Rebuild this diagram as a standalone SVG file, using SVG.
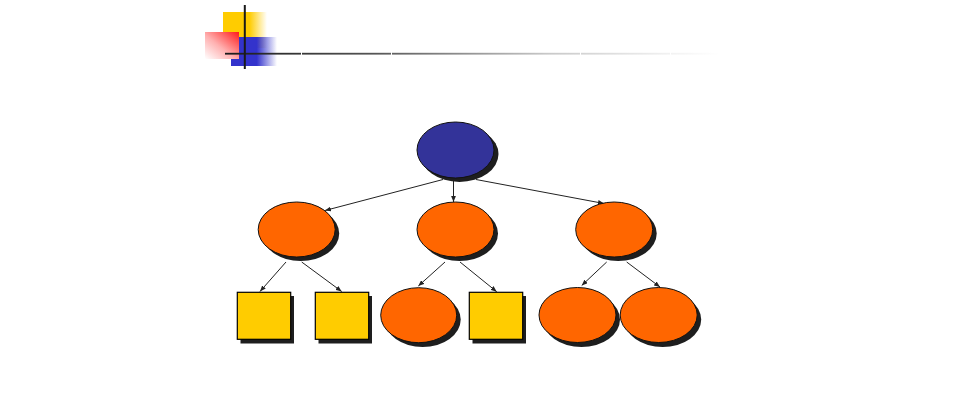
<svg xmlns="http://www.w3.org/2000/svg" width="959" height="419" viewBox="0 0 959 419">
<defs>
<linearGradient id="gY" x1="0" y1="0" x2="1" y2="0"><stop offset="0" stop-color="#FFCC00"/><stop offset="0.6" stop-color="#FFCC00"/><stop offset="1" stop-color="#FFCC00" stop-opacity="0"/></linearGradient>
<linearGradient id="gB" x1="0" y1="0" x2="1" y2="0"><stop offset="0" stop-color="#3333CC"/><stop offset="0.56" stop-color="#3333CC"/><stop offset="1" stop-color="#3333CC" stop-opacity="0"/></linearGradient>
<linearGradient id="gR" x1="1" y1="0" x2="0" y2="1"><stop offset="0" stop-color="#FF1A1A"/><stop offset="0.55" stop-color="#FFB0B0"/><stop offset="1" stop-color="#FFFFFF"/></linearGradient>
<linearGradient id="gL" x1="225" y1="0" x2="720" y2="0" gradientUnits="userSpaceOnUse"><stop offset="0" stop-color="#1a1a1a"/><stop offset="0.3" stop-color="#555"/><stop offset="0.65" stop-color="#c8c8c8"/><stop offset="0.9" stop-color="#f2f2f2"/><stop offset="1" stop-color="#fff"/></linearGradient>
<marker id="ah" viewBox="0 0 10 8" refX="10" refY="4" markerWidth="6" markerHeight="5" markerUnits="userSpaceOnUse" orient="auto"><path d="M0,0 L10,4 L0,8 z" fill="#222"/></marker>
</defs>
<style>
.sh{fill:#1e1e1e}
.or{fill:#FF6600;stroke:#111;stroke-width:1}
.bl{fill:#333399;stroke:#111;stroke-width:1}
.ye{fill:#FFCC00;stroke:#000;stroke-width:1.2}
.cn{stroke:#222;stroke-width:1;fill:none;marker-end:url(#ah)}
</style>
<g id="header">
<rect x="223" y="12" width="44" height="36" fill="url(#gY)"/>
<rect x="231" y="37" width="46" height="29" fill="url(#gB)"/>
<rect x="205" y="32" width="34" height="27" fill="url(#gR)"/>
<rect x="225" y="52.8" width="495" height="1.8" fill="url(#gL)"/>
<g stroke="#fff" stroke-width="1"><line x1="301.5" y1="52" x2="301.5" y2="56"/><line x1="391.5" y1="52" x2="391.5" y2="56"/><line x1="580.5" y1="52" x2="580.5" y2="56"/><line x1="670.5" y1="52" x2="670.5" y2="56"/></g>
<rect x="243.8" y="5" width="2" height="64" fill="#1a1a1a"/>
</g>
<g id="connectors">
<line class="cn" x1="443" y1="179.5" x2="325" y2="210.5"/>
<line class="cn" x1="453.5" y1="180" x2="453.5" y2="202"/>
<line class="cn" x1="476" y1="179.5" x2="604" y2="203.5"/>
<line class="cn" x1="286" y1="262" x2="260" y2="291.5"/>
<line class="cn" x1="301.7" y1="262" x2="341.7" y2="291.5"/>
<line class="cn" x1="445" y1="262" x2="418.3" y2="286"/>
<line class="cn" x1="460" y1="262" x2="496.7" y2="291.7"/>
<line class="cn" x1="606.7" y1="262" x2="581.7" y2="285.5"/>
<line class="cn" x1="626.7" y1="262" x2="660" y2="287"/>
</g>
<g id="root"><ellipse class="sh" cx="459.5" cy="154" rx="39" ry="28"/><ellipse class="bl" cx="455.5" cy="150" rx="38.5" ry="28"/></g>
<g id="l2a"><ellipse class="sh" cx="300.7" cy="233.5" rx="38.5" ry="27.5"/><ellipse class="or" cx="296.7" cy="229.5" rx="38.5" ry="27.5"/></g>
<g id="l2b"><ellipse class="sh" cx="459.5" cy="233.5" rx="38.5" ry="27.5"/><ellipse class="or" cx="455.5" cy="229.5" rx="38.5" ry="27.5"/></g>
<g id="l2c"><ellipse class="sh" cx="618.2" cy="233.5" rx="38.5" ry="27.5"/><ellipse class="or" cx="614.2" cy="229.5" rx="38.5" ry="27.5"/></g>
<g id="l3a"><rect class="sh" x="240.5" y="296" width="53.5" height="47.5"/><rect class="ye" x="237.3" y="292.3" width="53.4" height="47"/></g>
<g id="l3b"><rect class="sh" x="318.5" y="296" width="53.5" height="47.5"/><rect class="ye" x="315.3" y="292.3" width="53.4" height="47"/></g>
<g id="l3c"><ellipse class="sh" cx="422.7" cy="319.5" rx="38" ry="27.5"/><ellipse class="or" cx="418.7" cy="315.2" rx="38" ry="27.5"/></g>
<g id="l3d"><rect class="sh" x="472.5" y="296" width="53.5" height="47.5"/><rect class="ye" x="469.3" y="292.3" width="53.4" height="47"/></g>
<g id="l3e"><ellipse class="sh" cx="581.5" cy="319.5" rx="38.5" ry="27.5"/><ellipse class="or" cx="577.5" cy="315" rx="38.5" ry="27.5"/></g>
<g id="l3f"><ellipse class="sh" cx="662.7" cy="319.5" rx="38.5" ry="27.5"/><ellipse class="or" cx="658.7" cy="315" rx="38.5" ry="27.5"/></g>
</svg>
